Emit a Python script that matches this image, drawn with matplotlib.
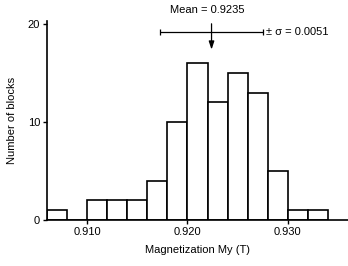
import matplotlib.pyplot as plt
import numpy as np

# histogram (bin width 0.002 T)
bin_edges = [0.906, 0.908, 0.910, 0.912, 0.914, 0.916, 0.918, 0.920,
             0.922, 0.924, 0.926, 0.928, 0.930, 0.932, 0.934]
counts = [1, 0, 2, 2, 2, 4, 10, 16, 12, 15, 13, 5, 1, 1]

mean_pos = 0.9224   # where the arrow sits in the picture
sigma = 0.0051
mean_label = "Mean = 0.9235"
sigma_label = "± σ = 0.0051"

plt.rcParams['font.family'] = ['Liberation Sans', 'DejaVu Sans']

fig = plt.figure(figsize=(3.48, 2.66), dpi=100)
ax = fig.add_axes([0.135, 0.173, 0.865, 0.748])

lefts = np.array(bin_edges[:-1])
widths = np.diff(bin_edges)
ax.bar(lefts, counts, width=widths, align='edge', facecolor='white',
       edgecolor='black', linewidth=1.2)

ax.set_xlim(0.906, 0.936)
ax.set_ylim(0, 20.3)
ax.set_xticks([0.910, 0.920, 0.930])
ax.set_xticklabels(['0.910', '0.920', '0.930'])
ax.set_yticks([0, 10, 20])
ax.tick_params(labelsize=8, length=3, width=1, direction='out', pad=2)
for s in ['top', 'right']:
    ax.spines[s].set_visible(False)
for s in ['left', 'bottom']:
    ax.spines[s].set_linewidth(1.2)

ax.set_xlabel('Magnetization My (T)', fontsize=8, labelpad=6)
ax.set_ylabel('Number of blocks', fontsize=8, labelpad=8)

# sigma bar
ax.errorbar([mean_pos], [19.15], xerr=[sigma], fmt='none', ecolor='black',
            elinewidth=0.9, capsize=2.5, capthick=0.9, clip_on=False)
ax.text(mean_pos + sigma + 0.0003, 19.15, sigma_label, fontsize=8,
        va='center', ha='left')

# mean arrow
ax.annotate('', xy=(mean_pos, 17.1), xytext=(mean_pos, 20.3),
            arrowprops=dict(arrowstyle='-|>,head_length=0.6,head_width=0.2',
                            color='black', lw=0.9, mutation_scale=8),
            annotation_clip=False)
ax.text(mean_pos - 0.0004, 21.4, mean_label, fontsize=8, ha='center',
        va='center')

plt.savefig('out.png', dpi=100)
